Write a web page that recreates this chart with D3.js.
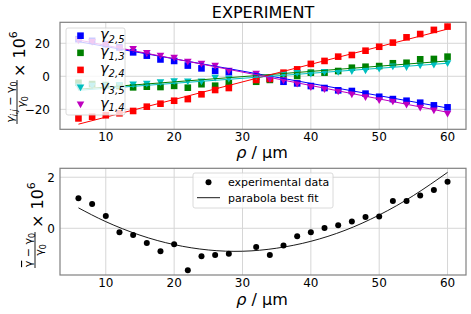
<!DOCTYPE html>
<html>
<head>
<meta charset="utf-8">
<script src="https://cdn.jsdelivr.net/npm/d3@7"></script>
<style>
  body { margin: 0; background: #fff; }
  text { font-family: "DejaVu Sans", sans-serif; fill: #000; }
</style>
</head>
<body>
<div id="chart"></div>
<script>
// measurement positions (rho in um), 30 is missing
var rho = [6, 8, 10, 12, 14, 16, 18, 20, 22, 24, 26, 28, 32, 34, 36, 38, 40, 42, 44, 46, 48, 50, 52, 54, 56, 58, 60];

// relative deviations x 10^6 per pair
var gamma25 = [22.5, 21.5, 19.5, 17.5, 14.5, 12.5, 10.2, 9.3, 6.5, 4.8, 3.3, 2.5, -0.2, -1.6, -3.3, -4.3, -5.9, -7.1, -8.5, -8.9, -10.5, -12.4, -13.8, -14.8, -16, -17.6, -18.8];
var gamma13 = [-3.9, -4.7, -5.3, -5.9, -6.7, -6.3, -6.5, -5.8, -6.9, -4.8, -5.7, -4.2, -3.3, -2.2, 0.8, 0.2, 2.2, 2.2, 3.2, 5.2, 5.8, 6.2, 7.9, 8.2, 10.3, 10.5, 11.9];
var gamma24 = [-25.5, -24.5, -23.6, -22.4, -21, -18.4, -16.6, -14.8, -13.8, -10.9, -8.3, -7.1, -2.2, -1.6, 2.2, 4.2, 7.5, 9.3, 11.9, 12.9, 15.5, 17.9, 20.4, 23.6, 25.6, 28.1, 30.1];
var gamma35 = [-6, -5.5, -5.5, -5, -4.7, -4.2, -3.3, -2.7, -2.9, -2.9, -0.6, -1.2, 0.2, -0.6, 1.4, 2.2, 1.8, 2.8, 2.8, 3.4, 3.8, 4.8, 6.2, 5.8, 6.8, 7.3, 8.2];
var gamma14 = [22, 21, 19.4, 17.3, 16.7, 14.3, 12.7, 11.5, 9.1, 7.9, 6.7, 3.6, 1.8, -1.4, -2.2, -4.3, -6.3, -7.5, -8.9, -10.7, -12.4, -14.2, -15, -17, -18.8, -20.4, -22.4];

// linear fits, values at rho = 6 and rho = 60
var fitRho = [6, 60];
var fit25 = [21, -19.2];
var fit13 = [-7.8, 9.3];
var fit24 = [-29, 28.6];
var fit35 = [-8.5, 7.9];
var fit14 = [22, -21.8];

// mean deviation x 10^6
var gammaMean = [1.18, 0.95, 0.48, -0.16, -0.26, -0.58, -0.9, -0.63, -1.64, -1.1, -1.05, -1.0, -0.73, -1.05, -0.67, -0.31, -0.16, 0.01, 0.12, 0.27, 0.44, 0.46, 1.07, 1.07, 1.28, 1.5, 1.82];

// parabola best fit
var parabolaRho = [6, 10, 15, 20, 25, 30, 35, 40, 45, 50, 55, 60];
var parabolaVal = [0.8, 0.26, -0.27, -0.64, -0.85, -0.9, -0.78, -0.51, -0.08, 0.52, 1.28, 2.19];

var topTicks = [-20, 0, 20];
var bottomTicks = [0, 2];
var xTicks = [10, 20, 30, 40, 50, 60];

var series = [
    {label: "2,5", values: gamma25, fit: fit25, color: "#0000ff", marker: "square"},
    {label: "1,3", values: gamma13, fit: fit13, color: "#008000", marker: "square"},
    {label: "2,4", values: gamma24, fit: fit24, color: "#ff0000", marker: "square"},
    {label: "3,5", values: gamma35, fit: fit35, color: "#00bfbf", marker: "tri"},
    {label: "1,4", values: gamma14, fit: fit14, color: "#bf00bf", marker: "tri"}
];

var width = 471,
    height = 314;

var svg = d3.select("#chart").append("svg")
    .attr("width", width)
    .attr("height", height);

var x = d3.scaleLinear().domain([3.3, 62.7]).range([60, 466]);
var yTop = d3.scaleLinear().domain([-32.1, 32.7]).range([129.3, 22.3]);
var yBot = d3.scaleLinear().domain([-1.83, 2.35]).range([275, 168.3]);

function drawMarker(g, type, cx, cy, color) {
    if (type == "square") {
        g.append("rect")
            .attr("x", cx - 3.3)
            .attr("y", cy - 3.3)
            .attr("width", 6.6)
            .attr("height", 6.6)
            .attr("fill", color);
    } else {
        g.append("path")
            .attr("d", "M" + (cx - 3.8) + "," + (cy - 2.6) + "L" + (cx + 3.8) + "," + (cy - 2.6) + "L" + cx + "," + (cy + 4.2) + "Z")
            .attr("fill", color);
    }
}

function drawAxes(y, ticks, top, bottom, labelEnd, tickBaseline) {
    var g = svg.append("g");

    // grid
    g.selectAll(".vgrid").data(xTicks).enter().append("line")
        .attr("x1", function(d) { return x(d); })
        .attr("x2", function(d) { return x(d); })
        .attr("y1", top)
        .attr("y2", bottom)
        .attr("stroke", "#d6d6d6")
        .attr("stroke-width", 1);
    g.selectAll(".hgrid").data(ticks).enter().append("line")
        .attr("x1", 60)
        .attr("x2", 466)
        .attr("y1", function(d) { return y(d); })
        .attr("y2", function(d) { return y(d); })
        .attr("stroke", "#d6d6d6")
        .attr("stroke-width", 1);

    // tick labels
    g.selectAll(".xl").data(xTicks).enter().append("text")
        .attr("x", function(d) { return x(d); })
        .attr("y", tickBaseline)
        .attr("text-anchor", "middle")
        .style("font-size", "12px")
        .text(function(d) { return d; });
    g.selectAll(".yl").data(ticks).enter().append("text")
        .attr("x", labelEnd)
        .attr("y", function(d) { return y(d); })
        .attr("dy", "0.36em")
        .attr("text-anchor", "end")
        .style("font-size", "12px")
        .text(function(d) { return d < 0 ? "\u2212" + Math.abs(d) : d; });
    return g;
}

function drawFrame(top, bottom) {
    svg.append("rect")
        .attr("x", 60)
        .attr("y", top)
        .attr("width", 406)
        .attr("height", bottom - top)
        .attr("fill", "none")
        .attr("stroke", "#808080")
        .attr("stroke-width", 1.2);
}

// ---------- top panel ----------
drawAxes(yTop, topTicks, 22.3, 129.3, 50, 141);

var topData = svg.append("g");
series.forEach(function(s) {
    s.values.forEach(function(v, i) {
        drawMarker(topData, s.marker, x(rho[i]), yTop(v), s.color);
    });
});
series.forEach(function(s) {
    topData.append("line")
        .attr("x1", x(fitRho[0]))
        .attr("y1", yTop(s.fit[0]))
        .attr("x2", x(fitRho[1]))
        .attr("y2", yTop(s.fit[1]))
        .attr("stroke", s.color)
        .attr("stroke-width", 1);
});

drawFrame(22.3, 129.3);

// legend
var leg = svg.append("g");
leg.append("rect")
    .attr("x", 66)
    .attr("y", 28)
    .attr("width", 59)
    .attr("height", 87)
    .attr("rx", 2)
    .attr("fill", "#fff")
    .attr("fill-opacity", 0.8)
    .attr("stroke", "#d0d0d0")
    .attr("stroke-width", 0.8);
series.forEach(function(s, i) {
    var ly = 35.7 + i * 17.1;
    drawMarker(leg, s.marker, 80.5, ly, s.color);
    var t = leg.append("text")
        .attr("x", 100)
        .attr("y", ly + 3.5)
        .style("font-size", "14.5px")
        .style("font-style", "italic");
    t.append("tspan").text("\u03b3");
    t.append("tspan")
        .attr("dy", 3.5)
        .style("font-size", "10px")
        .text(s.label);
});

// title
svg.append("text")
    .attr("x", 263)
    .attr("y", 18.3)
    .attr("text-anchor", "middle")
    .style("font-size", "16px")
    .text("EXPERIMENT");

// x labels
[157.5, 304.5].forEach(function(yy) {
    var t = svg.append("text")
        .attr("x", 262)
        .attr("y", yy)
        .attr("text-anchor", "middle")
        .style("font-size", "16px");
    t.append("tspan").style("font-style", "italic").text("\u03c1");
    t.append("tspan").text(" / \u00b5m");
});

// top y label, rotated fraction
var yl = svg.append("g").attr("transform", "translate(17,76) rotate(-90)");
var num = yl.append("text")
    .attr("x", -26)
    .attr("y", -3)
    .attr("text-anchor", "middle")
    .style("font-size", "11px")
    .style("font-style", "italic");
num.append("tspan").text("\u03b3");
num.append("tspan").attr("dy", 2.5).style("font-size", "8px").text("i,j");
num.append("tspan").attr("dy", -2.5).style("font-style", "normal").text(" \u2212 \u03b3");
num.append("tspan").attr("dy", 2.5).style("font-size", "8px").style("font-style", "normal").text("0");
yl.append("line")
    .attr("x1", -48).attr("x2", -4)
    .attr("y1", 0).attr("y2", 0)
    .attr("stroke", "#000").attr("stroke-width", 0.9);
var den = yl.append("text")
    .attr("x", -26)
    .attr("y", 8)
    .attr("text-anchor", "middle")
    .style("font-size", "11px")
    .style("font-style", "italic");
den.append("tspan").text("\u03b3");
den.append("tspan").attr("dy", 2.5).style("font-size", "8px").style("font-style", "normal").text("0");
var mult = yl.append("text")
    .attr("x", -1)
    .attr("y", 8)
    .style("font-size", "16px");
mult.append("tspan").text("\u00d7 10");
mult.append("tspan").attr("dy", -8).style("font-size", "11px").text("6");

// ---------- bottom panel ----------
drawAxes(yBot, bottomTicks, 168.3, 275, 55, 287);

var botData = svg.append("g");
botData.selectAll("circle").data(gammaMean).enter().append("circle")
    .attr("cx", function(d, i) { return x(rho[i]); })
    .attr("cy", function(d) { return yBot(d); })
    .attr("r", 3)
    .attr("fill", "#000");

var parabola = d3.line()
    .x(function(d, i) { return x(parabolaRho[i]); })
    .y(function(d) { return yBot(d); })
    .curve(d3.curveNatural);
botData.append("path")
    .attr("d", parabola(parabolaVal))
    .attr("fill", "none")
    .attr("stroke", "#000")
    .attr("stroke-width", 0.9);

drawFrame(168.3, 275);

// bottom legend
var leg2 = svg.append("g");
leg2.append("rect")
    .attr("x", 193)
    .attr("y", 173)
    .attr("width", 140)
    .attr("height", 35)
    .attr("rx", 2)
    .attr("fill", "#fff")
    .attr("fill-opacity", 0.8)
    .attr("stroke", "#d0d0d0")
    .attr("stroke-width", 0.8);
leg2.append("circle").attr("cx", 208.5).attr("cy", 182.3).attr("r", 3).attr("fill", "#000");
leg2.append("line")
    .attr("x1", 197).attr("x2", 220)
    .attr("y1", 197.7).attr("y2", 197.7)
    .attr("stroke", "#000").attr("stroke-width", 0.9);
leg2.append("text").attr("x", 228).attr("y", 186.3).style("font-size", "11px").text("experimental data");
leg2.append("text").attr("x", 228).attr("y", 201.7).style("font-size", "11px").text("parabola best fit");

// bottom y label
var yl2 = svg.append("g").attr("transform", "translate(35,222) rotate(-90)");
var num2 = yl2.append("text")
    .attr("x", -28)
    .attr("y", -3)
    .attr("text-anchor", "middle")
    .style("font-size", "11px");
num2.append("tspan").style("text-decoration", "overline").text("\u03b3");
num2.append("tspan").text(" \u2212 \u03b3");
num2.append("tspan").attr("dy", 2.5).style("font-size", "8px").text("0");
yl2.append("line")
    .attr("x1", -46).attr("x2", -10)
    .attr("y1", 0).attr("y2", 0)
    .attr("stroke", "#000").attr("stroke-width", 0.9);
var den2 = yl2.append("text")
    .attr("x", -28)
    .attr("y", 8)
    .attr("text-anchor", "middle")
    .style("font-size", "11px");
den2.append("tspan").text("\u03b3");
den2.append("tspan").attr("dy", 2.5).style("font-size", "8px").text("0");
var mult2 = yl2.append("text")
    .attr("x", -6)
    .attr("y", 8)
    .style("font-size", "16px");
mult2.append("tspan").text("\u00d7 10");
mult2.append("tspan").attr("dy", -8).style("font-size", "11px").text("6");
</script>
</body>
</html>
